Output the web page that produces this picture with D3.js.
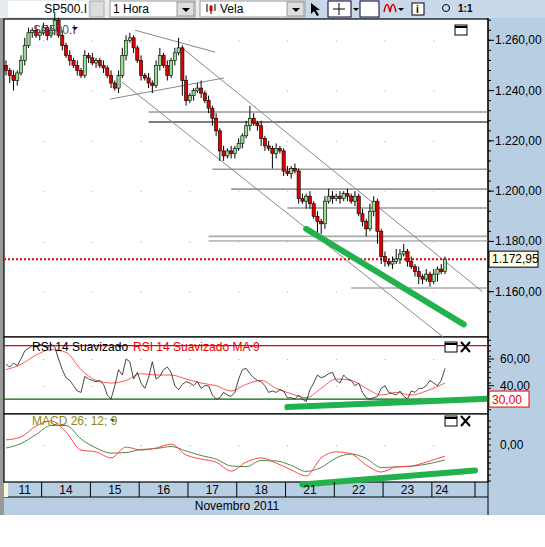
<!DOCTYPE html>
<html><head><meta charset="utf-8">
<script src="https://cdn.jsdelivr.net/npm/d3@7"></script>
<style>body{margin:0;background:#fff}svg{display:block;font-family:"Liberation Sans",Arial,sans-serif}</style>
</head><body><svg id="c" width="545" height="547"></svg>
<script>
const closes=[1248,1246,1244,1247,1252,1258,1263,1264,1262,
1263,1265,1262,1264,1268,1262,1258,1254,1252,1250,1248,1246,1254,
1253,1251,1252,1250,1249,1246,1243,1241,1246,1254,1260,1261,1257,
1252,1246,1245,1243,1242,1250,1254,1250,1246,1252,1255,1257,1244,
1236,1238,1240,1241,1239,1236,1233,1229,1224,1216,1214,1216,1215,
1217,1219,1222,1226,1229,1227,1226,1221,1218,1217,1215,1217,1216,
1208,1207,1209,1208,1197,1196,1198,1195,1190,1188,1187,1196,1198,
1197,1198,1197,1199,1198,1196,1198,1191,1188,1185,1192,1196,1184,
1174,1172,1171,1172,1173,1175,1176,1172,1170,1168,1166,1165,1167,
1164,1167,1169,1168,1172.95];
const openFirst=1250;
const wickHigh=[2,1,2,1,2,3,2,1,2, 1,2,1,2,3,1,2,1,2,1,2,1,2, 1,2,1,1,2,1,2,1,2,3,2,2,1, 1,2,1,2,1,2,3,1,2,1,2,4,1, 2,1,1,2,3,1,2,1,2,1,2,1,2, 1,2,1,2,5,2,1,2,1,2,1,2,1, 1,2,1,2,1,2,1,2,1,2,1,2,3, 2,1,2,1,2,1,2,1,2,1,3,2,1, 1,2,1,2,4,2,3,1,2,1,2,1,2, 1,2,1,2,1];
const wickLow=[2,3,4,2,1,2,1,2,1, 2,1,2,1,2,1,2,1,2,1,2,1,1, 2,1,2,1,2,1,2,1,2,1,2,1,2, 1,2,1,2,3,1,2,1,2,1,2,1,6, 2,1,2,1,2,1,2,3,2,4,2,1,2, 2,1,2,1,2,1,2,3,2,1,6,2,1, 2,1,2,1,2,1,3,2,1,5,4,2,1, 2,1,2,1,2,1,2,1,2,3,1,2,5, 3,2,1,2,1,2,1,2,1,2,3,2,1, 2,1,3,1,1];
const rsi=[56,54,57,55,60,66,68,70,69,71,70,68,71,69,60,52,46,44,40,36,35,47,45,44,43,44,41,33,30,40,52,48,60,58,45,50,42,38,46,58,45,47,52,54,50,40,37,41,43,42,40,43,38,40,40,33,30,31,35,33,32,35,45,52,53,49,46,44,43,40,35,36,35,37,36,31,31,30,33,30,28,37,42,48,46,47,49,50,44,42,48,45,44,40,42,35,31,30,31,32,38,40,35,34,33,36,32,30,36,35,38,38,40,44,42,40,44,53];
const rsiMaIdx=[0,4,8,12,16,20,24,28,32,36,40,44,48,52,56,60,64,68,72,76,80,84,88,92,96,100,104,108,112,117];
const rsiMa=[52,56,63,67,65,52,44,42,44,49,48,48,45,42,40,36,41,44,38,34,31,38,45,44,38,33,35,33,36,42];
const macd=[1.7,2.7,6.3,8,4.3,-1.7,-2.3,-4.3,-0.7,-1.7,-1,0.3,-3.3,-4.7,-5.7,-8.7,-5.7,-4.3,-6,-8.3,-10.3,-4.3,-2.3,-3,-6.7,-9,-7.3,-7,-5.7,-3.7];
const signal=[-1,0.5,3.5,6.5,6.5,2,-1,-2.7,-2.5,-1.5,-1.2,-0.5,-2,-3.5,-4.7,-7,-7.2,-5.2,-5.3,-6.8,-8.8,-7.5,-4.3,-3,-4.5,-7.5,-7.3,-7.1,-6.4,-5];
const priceTicks=[1160,1180,1200,1220,1240,1260];
const rsiTicks=[40,60];
const days=["11","14","15","16","17","18","21","22","23","24"];
const dayStart=[-3,10,23,36,49,62,75,88,101,114];
const hLines=[{p:1231.5,from:38,c:"#999"},{p:1227.5,from:38,c:"#000"},{p:1208.7,from:55,c:"#999"},{p:1200.8,from:60,c:"#999"},{p:1193.3,from:75,c:"#999"},{p:1182,from:54,c:"#aaa"},{p:1180.2,from:54,c:"#bbb"},{p:1161.5,from:92,c:"#aaa"}];
const trend=[{a:[34.4,1264],b:[55.7,1255.3]},{a:[27.7,1236.6],b:[58.1,1245]},{a:[46.9,1257],b:[127,1160]},{a:[30.9,1243.4],b:[116.5,1142]}];
const greenAnn={main:[[80,1185],[122,1147]],rsi:[[75,24],[130,30.5]],macd:[[79,-13.2],[125,-8.5]]};
const lastPrice=1172.95;

const svg=d3.select("#c");
const X0=6, X1=445;
const x=d3.scaleLinear().domain([0,closes.length-1]).range([X0,X1]);
const yP=d3.scaleLinear().domain([1160,1260]).range([291.7,40.3]);
const yR=d3.scaleLinear().domain([40,60]).range([385.7,359]);
const yM=d3.scaleLinear().domain([0,10]).range([445,415]);
const L=4,R=488;
svg.append("rect").attr("x",0).attr("y",0).attr("width",545).attr("height",515).attr("fill","#b8cfe3");
svg.append("rect").attr("x",0).attr("y",0).attr("width",545).attr("height",18).attr("fill","#e8ecf0");
svg.append("rect").attr("x",305).attr("y",0).attr("width",240).attr("height",18).attr("fill","#c9d9ea");
svg.append("rect").attr("x",0).attr("y",18).attr("width",L).attr("height",497).attr("fill","#999");
const panels=[[19,337],[337,414],[414,482]];
panels.forEach(p=>svg.append("rect").attr("x",L).attr("y",p[0]).attr("width",R-L).attr("height",p[1]-p[0]).attr("fill","#fff").attr("stroke","#000").attr("stroke-width",1.2));
const tb=svg.append("g").attr("font-size",12);
tb.append("rect").attr("x",8).attr("y",1).attr("width",80).attr("height",16).attr("fill","#fff");
tb.append("text").attr("x",87).attr("y",13).attr("text-anchor","end").text("SP500.I");
tb.append("rect").attr("x",90).attr("y",1).attr("width",14).attr("height",16).attr("fill","#ddd").attr("stroke","#aaa");
[[110,195,"1 Hora"],[200,305,"Vela"]].forEach(([a,b,t],i)=>{
 tb.append("rect").attr("x",a).attr("y",1).attr("width",b-a).attr("height",16).attr("fill","#fff").attr("stroke","#999");
 tb.append("rect").attr("x",b-18).attr("y",2).attr("width",17).attr("height",14).attr("fill","#ddd").attr("stroke","#999");
 tb.append("path").attr("d",`M${b-13},8h8l-4,4z`).attr("fill","#000");
 tb.append("text").attr("x",i?220:113).attr("y",13).text(t);
});
tb.append("path").attr("d","M207,12v-8M211,14v-9M215,11v-7").attr("stroke","#000");
tb.append("rect").attr("x",209.5).attr("y",6).attr("width",3).attr("height",5).attr("fill","#d00");
tb.append("path").attr("d","M311,3l0,11l3,-3l3,5l2,-1l-3,-5l4,0z").attr("fill","#000");
tb.append("rect").attr("x",328).attr("y",1).attr("width",23).attr("height",16).attr("fill","#fff").attr("stroke","#003");
tb.append("path").attr("d","M339,3v12M333,9h12").attr("stroke","#000");
tb.append("path").attr("d","M353,8h6l-3,3z").attr("fill","#000");
tb.append("rect").attr("x",360).attr("y",1).attr("width",19).attr("height",16).attr("fill","#fff").attr("stroke","#003");
tb.append("path").attr("d","M384,12c2,-10 4,-10 6,0c2,-10 4,-10 6,0").attr("fill","none").attr("stroke","#c00").attr("stroke-width",1.5);
tb.append("path").attr("d","M398,8h6l-3,3z").attr("fill","#000");
tb.append("rect").attr("x",412).attr("y",3).attr("width",12).attr("height",12).attr("fill","#fff").attr("stroke","#000");
tb.append("text").attr("x",416).attr("y",13).attr("font-weight","bold").attr("font-size",10).text("i");
tb.append("text").attr("x",458).attr("y",12).attr("font-size",10).attr("font-weight","bold").text("1:1");
tb.append("circle").attr("cx",446).attr("cy",8).attr("r",3.5).attr("fill","none").attr("stroke","#000");
const gd=svg.append("g").attr("fill","#bbb");
dayStart.slice(1).forEach(d=>{priceTicks.forEach(p=>gd.append("rect").attr("x",x(d)-0.5).attr("y",yP(p)).attr("width",1.2).attr("height",1.2));
 rsiTicks.forEach(p=>gd.append("rect").attr("x",x(d)-0.5).attr("y",yR(p)).attr("width",1.2).attr("height",1.2));
 gd.append("rect").attr("x",x(d)-0.5).attr("y",yM(0)).attr("width",1.2).attr("height",1.2);});
const mg=svg.append("g");
hLines.forEach(h=>mg.append("line").attr("x1",x(h.from)).attr("x2",R).attr("y1",yP(h.p)).attr("y2",yP(h.p)).attr("stroke",h.c).attr("stroke-width",h.c==="#000"?1.2:1.6));
trend.forEach(t=>mg.append("line").attr("x1",x(t.a[0])).attr("y1",yP(t.a[1])).attr("x2",x(t.b[0])).attr("y2",yP(t.b[1])).attr("stroke","#888").attr("stroke-width",1));
mg.append("line").attr("x1",L).attr("x2",R).attr("y1",yP(lastPrice)).attr("y2",yP(lastPrice)).attr("stroke","#e00").attr("stroke-width",2).attr("stroke-dasharray","2,2");
const cg=svg.append("g");
closes.forEach((c,i)=>{
 const o=i?closes[i-1]:openFirst, hi=Math.max(o,c)+wickHigh[i], lo=Math.min(o,c)-wickLow[i];
 const xi=x(i);
 cg.append("line").attr("x1",xi).attr("x2",xi).attr("y1",yP(hi)).attr("y2",yP(lo)).attr("stroke","#000").attr("stroke-width",1);
 cg.append("rect").attr("x",xi-1.6).attr("width",3.2).attr("y",yP(Math.max(o,c))).attr("height",Math.max(1,Math.abs(yP(o)-yP(c))))
   .attr("fill",c>=o?"#90e090":"#e00000").attr("stroke","#000").attr("stroke-width",0.6);
});
const ga=(pts,ys)=>svg.append("line").attr("x1",x(pts[0][0])).attr("y1",ys(pts[0][1])).attr("x2",x(pts[1][0])).attr("y2",ys(pts[1][1])).attr("stroke","#22b14c").attr("stroke-width",6).attr("stroke-linecap","round");
ga(greenAnn.main,yP);
svg.append("line").attr("x1",L).attr("x2",R).attr("y1",yR(70)).attr("y2",yR(70)).attr("stroke","#e00").attr("stroke-width",1.2);
svg.append("line").attr("x1",L).attr("x2",R).attr("y1",yR(30)).attr("y2",yR(30)).attr("stroke","#060").attr("stroke-width",1.2);
svg.append("path").datum(rsiMa).attr("d",d3.line().x((d,i)=>x(rsiMaIdx[i])).y(d=>yR(d)).curve(d3.curveMonotoneX)).attr("fill","none").attr("stroke","#f55").attr("stroke-width",1);
svg.append("path").datum(rsi).attr("d",d3.line().x((d,i)=>x(i)).y(d=>yR(d))).attr("fill","none").attr("stroke","#333").attr("stroke-width",0.9);
svg.append("path").datum(signal).attr("d",d3.line().x((d,i)=>x(rsiMaIdx[i])).y(d=>yM(d)).curve(d3.curveMonotoneX)).attr("fill","none").attr("stroke","#4a8a4a").attr("stroke-width",1);
svg.append("path").datum(macd).attr("d",d3.line().x((d,i)=>x(rsiMaIdx[i])).y(d=>yM(d)).curve(d3.curveMonotoneX)).attr("fill","none").attr("stroke","#f44").attr("stroke-width",1);
const hd=svg.append("g").attr("font-size",12);
const t1=hd.append("text").attr("x",33).attr("y",34).attr("fill","#556");
t1.append("tspan").text("SP500.");t1.append("tspan").attr("fill","#808").text("I");
hd.append("path").attr("d","M72,27h6l-3,3z").attr("fill","#000");
hd.append("text").attr("x",32).attr("y",351).text("RSI 14 Suavizado");
hd.append("path").attr("d","M117,345h5l-2.5,3z").attr("fill","#000");
hd.append("text").attr("x",133).attr("y",351).attr("fill","#e00").text("RSI 14 Suavizado MA 9");
hd.append("path").attr("d","M249,345h5l-2.5,3z").attr("fill","#e00");
hd.append("text").attr("x",32).attr("y",425).attr("fill","#8a8a10").text("MACD 26; 12; 9");
hd.append("path").attr("d","M110,419h5l-2.5,3z").attr("fill","#080");
[[455,25],[445,342],[445,416]].forEach(([a,b],i)=>{
 hd.append("rect").attr("x",a).attr("y",b).attr("width",12).attr("height",10).attr("fill","#fff").attr("stroke","#000");
 hd.append("line").attr("x1",a).attr("x2",a+12).attr("y1",b+2).attr("y2",b+2).attr("stroke","#000").attr("stroke-width",2);
 if(i) hd.append("path").attr("d",`M${a+16},${b}l9,10M${a+25},${b}l-9,10`).attr("stroke","#000").attr("stroke-width",2);
});
ga(greenAnn.rsi,yR); ga(greenAnn.macd,yM);
const ax=svg.append("g").attr("font-size",12);
const tickCol=(ys,domain,step)=>{d3.range(domain[0],domain[1],step).forEach(v=>{const yy=ys(v);ax.append("line").attr("x1",R).attr("x2",R+3).attr("y1",yy).attr("y2",yy).attr("stroke","#000");});};
tickCol(yP,[1148,1272],4); tickCol(yR,[22,76],4);tickCol(yM,[-12,10],2);
const fmt=v=>d3.format(",.2f")(v).replace(/,/g,"#").replace(".",",").replace(/#/g,".");
priceTicks.forEach(p=>{ax.append("line").attr("x1",R).attr("x2",R+6).attr("y1",yP(p)).attr("y2",yP(p)).attr("stroke","#000");ax.append("text").attr("x",495).attr("y",yP(p)+4).text(fmt(p));});
rsiTicks.forEach(p=>{ax.append("line").attr("x1",R).attr("x2",R+6).attr("y1",yR(p)).attr("y2",yR(p)).attr("stroke","#000");ax.append("text").attr("x",500).attr("y",yR(p)+4).text(fmt(p));});
ax.append("text").attr("x",500).attr("y",yM(0)+4).text(fmt(0));
ax.append("rect").attr("x",489).attr("y",yP(lastPrice)-8).attr("width",49).attr("height",16).attr("fill","#ffffe8").attr("stroke","#000");
ax.append("text").attr("x",492).attr("y",yP(lastPrice)+4).text(fmt(lastPrice));
ax.append("rect").attr("x",489).attr("y",yR(30)-8).attr("width",40).attr("height",16).attr("fill","#fff").attr("stroke","#e00");
ax.append("text").attr("x",492).attr("y",yR(30)+5).attr("fill","#e00").text(fmt(30));
const dg=svg.append("g").attr("font-size",12);
dg.append("line").attr("x1",L).attr("x2",R).attr("y1",497).attr("y2",497).attr("stroke","#000");
dg.append("line").attr("x1",R).attr("x2",R).attr("y1",18).attr("y2",515).attr("stroke","#000");
dg.append("rect").attr("x",4).attr("y",483).attr("width",4).attr("height",14).attr("fill","#fff8dc");
const sep=dayStart.slice(1).map(d=>x(d-0.5));
sep.concat([x(125)]).forEach(s=>dg.append("line").attr("x1",s).attr("x2",s).attr("y1",482).attr("y2",497).attr("stroke","#000"));
days.forEach((d,i)=>{const a=i?sep[i-1]:8, b=i<sep.length?sep[i]:a+22;
 dg.append("text").attr("x",i===days.length-1?a+10:(a+b)/2).attr("y",494).attr("text-anchor","middle").text(d);});
dg.append("text").attr("x",237).attr("y",510).attr("text-anchor","middle").text("Novembro 2011");
</script></body></html>
